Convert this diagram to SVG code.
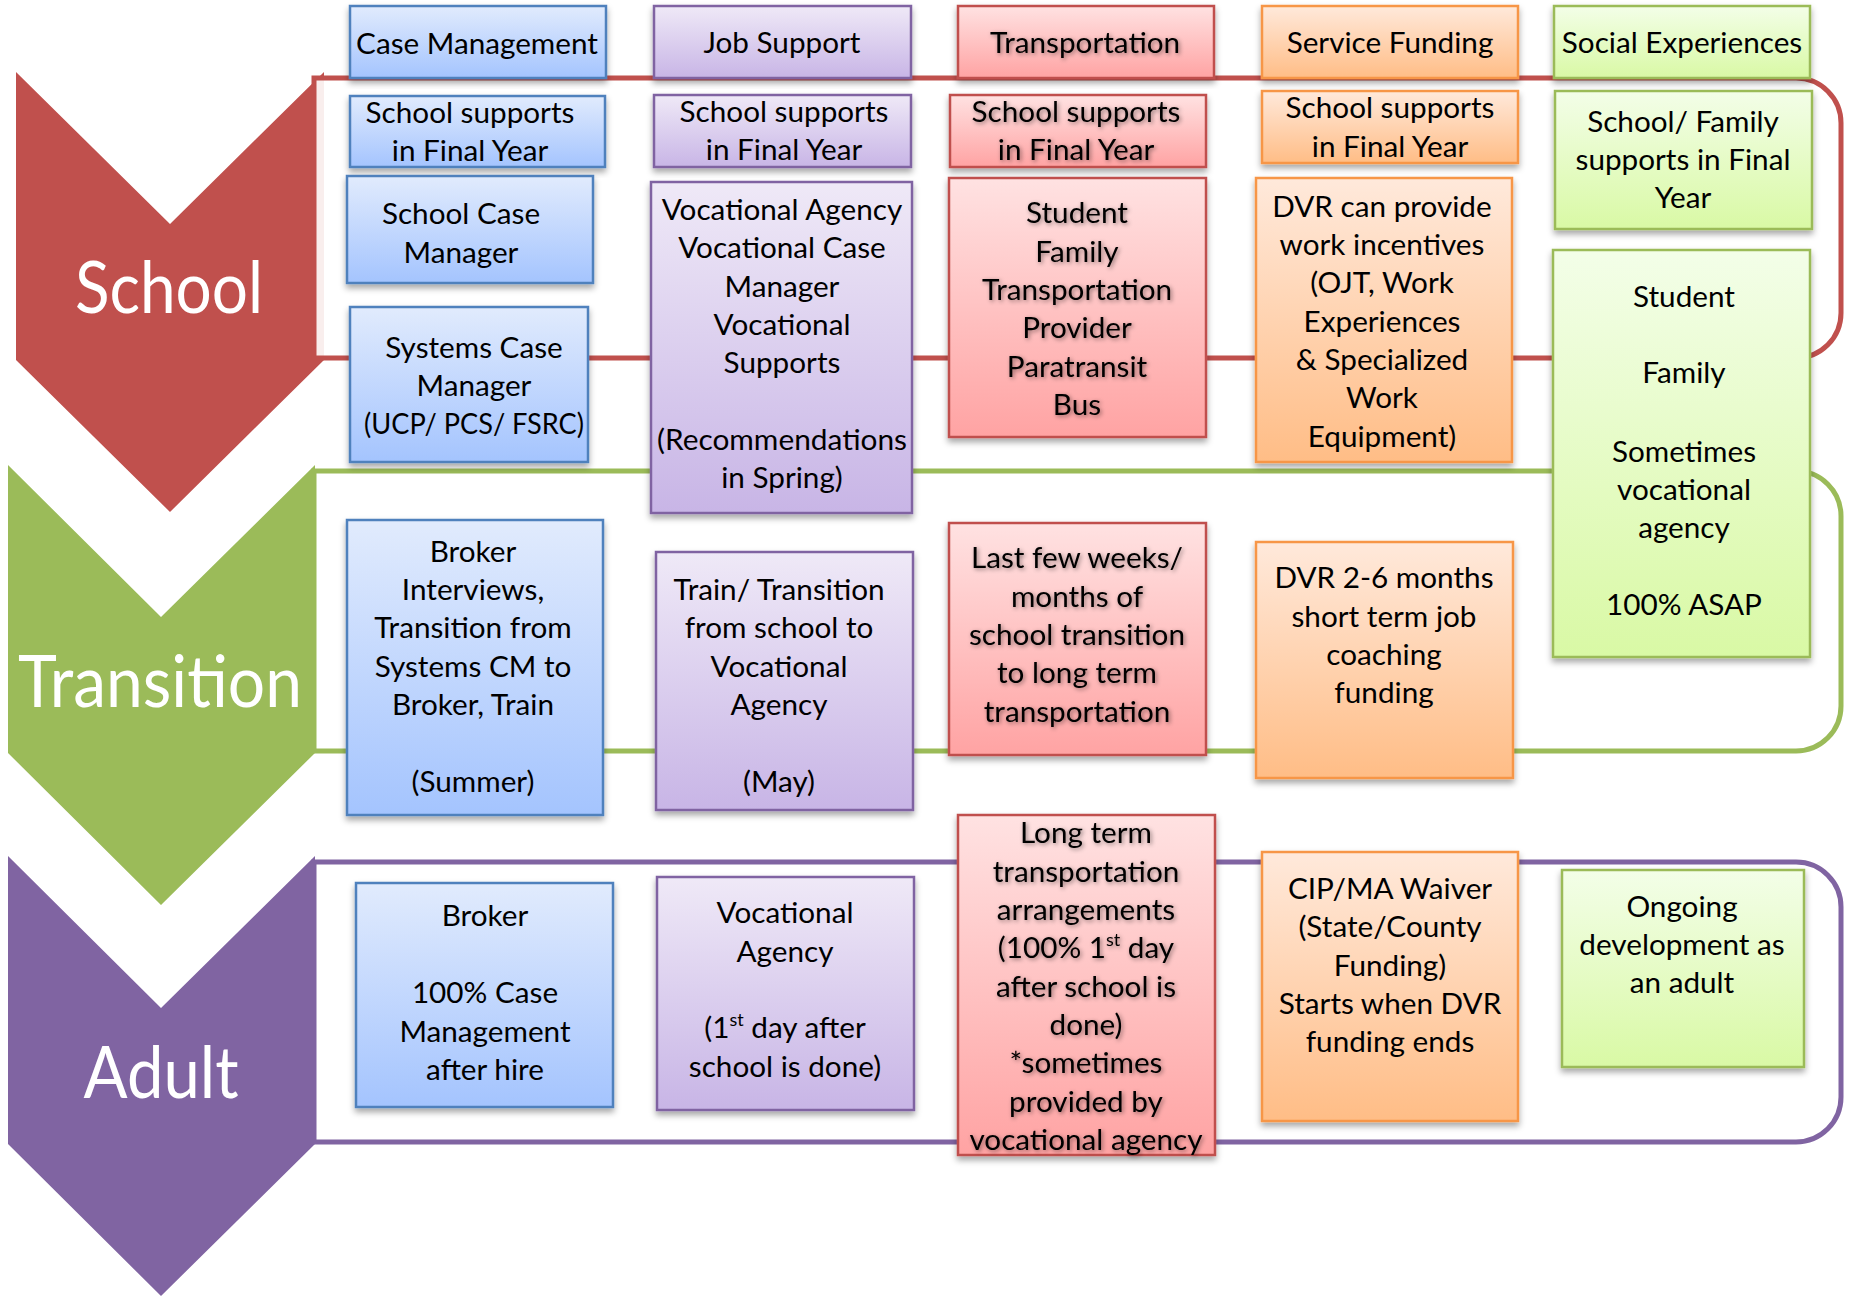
<svg xmlns="http://www.w3.org/2000/svg" width="1854" height="1296" viewBox="0 0 1854 1296">
<defs>
<linearGradient id="gBlue" x1="0" y1="0" x2="0" y2="1"><stop offset="0" stop-color="#E1EBFD"/><stop offset="1" stop-color="#A4C4FE"/></linearGradient>
<linearGradient id="gPurple" x1="0" y1="0" x2="0" y2="1"><stop offset="0" stop-color="#EFE9F7"/><stop offset="1" stop-color="#C8B5E6"/></linearGradient>
<linearGradient id="gRed" x1="0" y1="0" x2="0" y2="1"><stop offset="0" stop-color="#FFE2E2"/><stop offset="1" stop-color="#FFA3A3"/></linearGradient>
<linearGradient id="gOrange" x1="0" y1="0" x2="0" y2="1"><stop offset="0" stop-color="#FFE9DB"/><stop offset="1" stop-color="#FFBD86"/></linearGradient>
<linearGradient id="gGreen" x1="0" y1="0" x2="0" y2="1"><stop offset="0" stop-color="#F3FEE8"/><stop offset="1" stop-color="#D9F9A5"/></linearGradient>
<filter id="shadow" x="-10%" y="-10%" width="120%" height="125%">
<feDropShadow dx="0" dy="4" stdDeviation="3" flood-color="#000" flood-opacity="0.35"/>
</filter>
<filter id="tshadow" x="-10%" y="-30%" width="120%" height="160%">
<feDropShadow dx="1.5" dy="1.5" stdDeviation="2" flood-color="#000" flood-opacity="0.45"/>
</filter>
<style>
.box{stroke-width:2.5;filter:url(#shadow)}
.blue{fill:url(#gBlue);stroke:#4F81BD}
.purple{fill:url(#gPurple);stroke:#8064A2}
.red{fill:url(#gRed);stroke:#C0504D}
.orange{fill:url(#gOrange);stroke:#F79646}
.green{fill:url(#gGreen);stroke:#9BBB59}
.t{font-family:Lato,"Liberation Sans",sans-serif;font-size:29.7px;fill:#000;text-anchor:middle}
.ts{filter:url(#tshadow)}
.big{font-family:Lato,"Liberation Sans",sans-serif;font-size:71px;fill:#fff;text-anchor:middle}
.band{fill:#fff;fill-opacity:0.9;stroke-width:5}
.sup{font-size:18px}
</style>
</defs>
<rect width="1854" height="1296" fill="#fff"/>

<g id="chevron-school">
<polygon points="16,72 170,224 324,72 324,360 170,512 16,360" fill="#C0504D"/>
</g>
<g id="chevron-transition">
<polygon points="8,465 161,617 315,465 315,753 161,905 8,753" fill="#9BBB59"/>
</g>
<g id="chevron-adult">
<polygon points="8,856 161,1008 315,856 315,1144 161,1296 8,1144" fill="#8064A2"/>
</g>

<g id="connectors">
<path class="band" stroke="#C0504D" d="M314,78 H1796 A45,45 0 0 1 1841,123 V313 A45,45 0 0 1 1796,358 H314 Z"/>
<path class="band" stroke="#9BBB59" d="M314,471 H1796 A45,45 0 0 1 1841,516 V706 A45,45 0 0 1 1796,751 H314 Z"/>
<path class="band" stroke="#8064A2" d="M314,862 H1796 A45,45 0 0 1 1841,907 V1097 A45,45 0 0 1 1796,1142 H314 Z"/>
</g>

<g id="label-school"><text class="big" x="169" y="313" textLength="188" lengthAdjust="spacingAndGlyphs">School</text></g>
<g id="label-transition"><text class="big" x="160" y="707" textLength="284" lengthAdjust="spacingAndGlyphs">Transition</text></g>
<g id="label-adult"><text class="big" x="161" y="1098" textLength="155" lengthAdjust="spacingAndGlyphs">Adult</text></g>

<!-- Headers -->
<g id="h-case-management"><rect class="box blue" x="350" y="6" width="256" height="72"/><text class="t" x="477" y="54">Case Management</text></g>
<g id="h-job-support"><rect class="box purple" x="654" y="6" width="257" height="72"/><text class="t" x="782" y="53">Job Support</text></g>
<g id="h-transportation"><rect class="box red" x="958" y="6" width="256" height="72"/><text class="t ts" x="1085" y="53">Transportation</text></g>
<g id="h-service-funding"><rect class="box orange" x="1262" y="6" width="256" height="72"/><text class="t" x="1390" y="53">Service Funding</text></g>
<g id="h-social-experiences"><rect class="box green" x="1554" y="6" width="256" height="72"/><text class="t" x="1682" y="53">Social Experiences</text></g>

<!-- School row -->
<g id="cm-school-final"><rect class="box blue" x="350" y="96" width="255" height="71"/><text class="t"><tspan x="470" y="123">School supports</tspan><tspan x="470" y="161">in Final Year</tspan></text></g>
<g id="js-school-final"><rect class="box purple" x="654" y="95" width="257" height="72"/><text class="t"><tspan x="784" y="122">School supports</tspan><tspan x="784" y="160">in Final Year</tspan></text></g>
<g id="tr-school-final"><rect class="box red" x="950" y="95" width="256" height="72"/><text class="t ts"><tspan x="1076" y="122">School supports</tspan><tspan x="1076" y="160">in Final Year</tspan></text></g>
<g id="sf-school-final"><rect class="box orange" x="1262" y="91" width="256" height="72"/><text class="t"><tspan x="1390" y="118">School supports</tspan><tspan x="1390" y="157">in Final Year</tspan></text></g>
<g id="se-school-final"><rect class="box green" x="1555" y="91" width="257" height="138"/><text class="t"><tspan x="1683" y="132">School/ Family</tspan><tspan x="1683" y="170">supports in Final</tspan><tspan x="1683" y="208">Year</tspan></text></g>

<g id="cm-school-cm"><rect class="box blue" x="347" y="176" width="246" height="107"/><text class="t"><tspan x="461" y="224">School Case</tspan><tspan x="461" y="263">Manager</tspan></text></g>
<g id="cm-systems-cm"><rect class="box blue" x="350" y="307" width="238" height="155"/><text class="t"><tspan x="474" y="358">Systems Case</tspan><tspan x="474" y="396">Manager</tspan></text><text class="t" x="474" y="434" textLength="220" lengthAdjust="spacingAndGlyphs">(UCP/ PCS/ FSRC)</text></g>
<g id="js-vocational-agency"><rect class="box purple" x="651" y="182" width="261" height="331"/><text class="t"><tspan x="782" y="220">Vocational Agency</tspan><tspan x="782" y="258">Vocational Case</tspan><tspan x="782" y="297">Manager</tspan><tspan x="782" y="335">Vocational</tspan><tspan x="782" y="373">Supports</tspan></text><text class="t" x="782" y="450" textLength="250" lengthAdjust="spacingAndGlyphs">(Recommendations</text><text class="t" x="782" y="488">in Spring)</text></g>
<g id="tr-student-family"><rect class="box red" x="949" y="178" width="257" height="259"/><text class="t ts"><tspan x="1077" y="223">Student</tspan><tspan x="1077" y="262">Family</tspan><tspan x="1077" y="300">Transportation</tspan><tspan x="1077" y="338">Provider</tspan><tspan x="1077" y="377">Paratransit</tspan><tspan x="1077" y="415">Bus</tspan></text></g>
<g id="sf-dvr-incentives"><rect class="box orange" x="1256" y="178" width="256" height="284"/><text class="t"><tspan x="1382" y="217">DVR can provide</tspan><tspan x="1382" y="255">work incentives</tspan><tspan x="1382" y="293">(OJT, Work</tspan><tspan x="1382" y="332">Experiences</tspan><tspan x="1382" y="370">&amp; Specialized</tspan><tspan x="1382" y="408">Work</tspan><tspan x="1382" y="447">Equipment)</tspan></text></g>
<g id="se-student-family"><rect class="box green" x="1553" y="250" width="257" height="407"/><text class="t"><tspan x="1684" y="307">Student</tspan><tspan x="1684" y="383">Family</tspan><tspan x="1684" y="462">Sometimes</tspan><tspan x="1684" y="500">vocational</tspan><tspan x="1684" y="538">agency</tspan><tspan x="1684" y="615">100% ASAP</tspan></text></g>

<!-- Transition row -->
<g id="cm-broker-interviews"><rect class="box blue" x="347" y="520" width="256" height="295"/><text class="t"><tspan x="473" y="562">Broker</tspan><tspan x="473" y="600">Interviews,</tspan><tspan x="473" y="638">Transition from</tspan><tspan x="473" y="677">Systems CM to</tspan><tspan x="473" y="715">Broker, Train</tspan><tspan x="473" y="792">(Summer)</tspan></text></g>
<g id="js-train-transition"><rect class="box purple" x="656" y="552" width="257" height="258"/><text class="t"><tspan x="779" y="600">Train/ Transition</tspan><tspan x="779" y="638">from school to</tspan><tspan x="779" y="677">Vocational</tspan><tspan x="779" y="715">Agency</tspan><tspan x="779" y="792">(May)</tspan></text></g>
<g id="tr-last-weeks"><rect class="box red" x="949" y="523" width="257" height="232"/><text class="t ts"><tspan x="1077" y="568">Last few weeks/</tspan><tspan x="1077" y="607">months of</tspan><tspan x="1077" y="645">school transition</tspan><tspan x="1077" y="683">to long term</tspan><tspan x="1077" y="722">transportation</tspan></text></g>
<g id="sf-dvr-coaching"><rect class="box orange" x="1256" y="542" width="257" height="236"/><text class="t"><tspan x="1384" y="588">DVR 2-6 months</tspan><tspan x="1384" y="627">short term job</tspan><tspan x="1384" y="665">coaching</tspan><tspan x="1384" y="703">funding</tspan></text></g>

<!-- Adult row -->
<g id="cm-broker-adult"><rect class="box blue" x="356" y="883" width="257" height="224"/><text class="t"><tspan x="485" y="926">Broker</tspan><tspan x="485" y="1003">100% Case</tspan><tspan x="485" y="1042">Management</tspan><tspan x="485" y="1080">after hire</tspan></text></g>
<g id="js-vocational-adult"><rect class="box purple" x="657" y="877" width="257" height="233"/><text class="t"><tspan x="785" y="923">Vocational</tspan><tspan x="785" y="962">Agency</tspan></text><text class="t" x="785" y="1038">(1<tspan class="sup" dy="-12">st</tspan><tspan dy="12"> day after</tspan></text><text class="t" x="785" y="1077">school is done)</text></g>
<g id="tr-long-term"><rect class="box red" x="958" y="815" width="257" height="340"/><g class="ts"><text class="t"><tspan x="1086" y="843">Long term</tspan><tspan x="1086" y="882">transportation</tspan><tspan x="1086" y="920">arrangements</tspan></text><text class="t" x="1086" y="958">(100% 1<tspan class="sup" dy="-12">st</tspan><tspan dy="12"> day</tspan></text><text class="t"><tspan x="1086" y="997">after school is</tspan><tspan x="1086" y="1035">done)</tspan><tspan x="1086" y="1073">*sometimes</tspan><tspan x="1086" y="1112">provided by</tspan><tspan x="1086" y="1150">vocational agency</tspan></text></g></g>
<g id="sf-cip-waiver"><rect class="box orange" x="1262" y="852" width="256" height="269"/><text class="t"><tspan x="1390" y="899">CIP/MA Waiver</tspan><tspan x="1390" y="937">(State/County</tspan><tspan x="1390" y="976">Funding)</tspan><tspan x="1390" y="1014">Starts when DVR</tspan><tspan x="1390" y="1052">funding ends</tspan></text></g>
<g id="se-ongoing"><rect class="box green" x="1562" y="870" width="242" height="197"/><text class="t"><tspan x="1682" y="917">Ongoing</tspan><tspan x="1682" y="955">development as</tspan><tspan x="1682" y="993">an adult</tspan></text></g>
</svg>
